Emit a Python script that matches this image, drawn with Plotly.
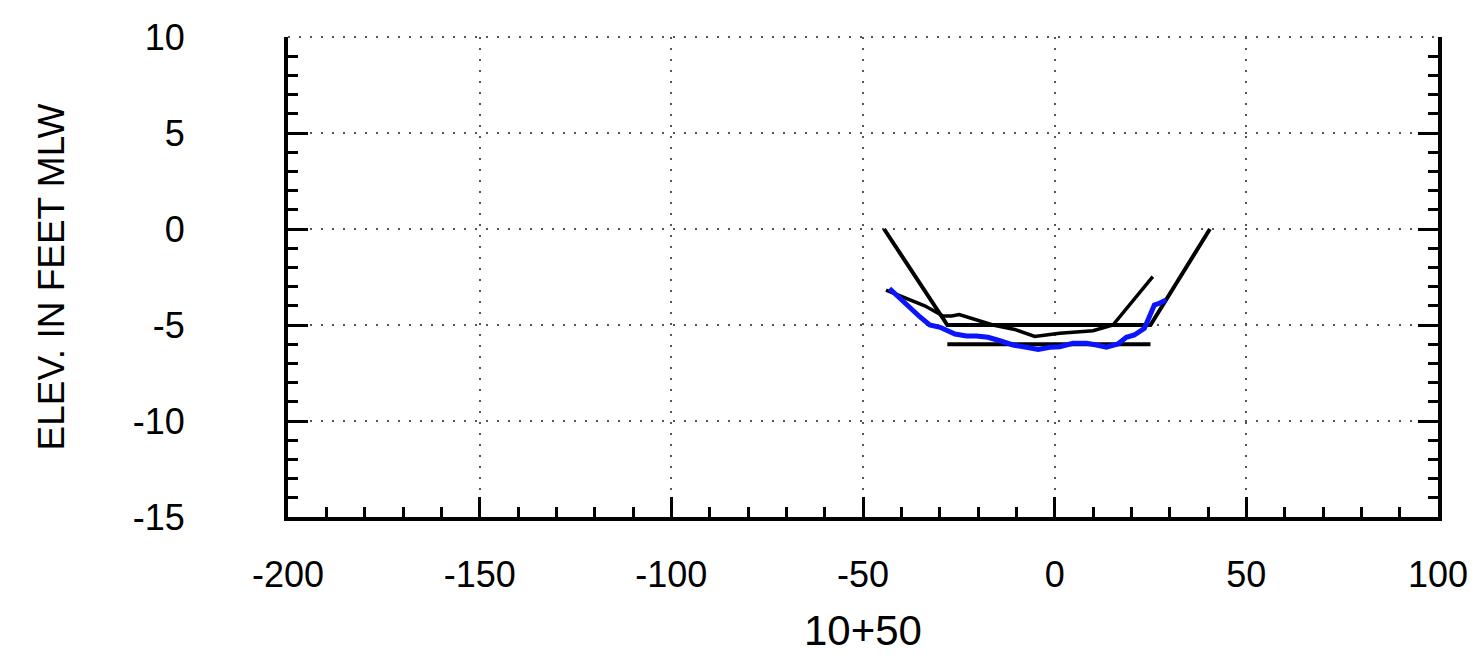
import plotly.graph_objects as go

# Design template (channel template)
design_x = [-44.5, -28.0, 25.0, 40.5]
design_y = [0.0, -5.0, -5.0, 0.0]

# Allowable overdepth line
overdepth_x = [-28.0, 25.0]
overdepth_y = [-6.0, -6.0]

# Prior survey (black)
prior_x = [-44.0, -33.9, -29.1, -26.9, -24.9, -21.3, -16.1, -10.4, -5.2, 1.3, 10.0, 15.2, 25.6]
prior_y = [-3.18, -4.0, -4.53, -4.53, -4.46, -4.7, -5.0, -5.23, -5.6, -5.43, -5.3, -5.0, -2.48]

# Current survey (blue)
survey_x = [-43.1, -40.4, -37.8, -35.2, -32.6, -29.9, -26.0, -23.0, -20.4, -17.4, -14.3, -10.9,
            -7.4, -4.3, -1.3, 1.3, 4.8, 8.3, 10.9, 13.5, 16.5, 18.7, 20.8, 23.4, 24.7, 26.0,
            27.3, 29.1]
survey_y = [-3.1, -3.6, -4.13, -4.57, -5.0, -5.12, -5.47, -5.57, -5.57, -5.64, -5.82, -6.04,
            -6.16, -6.27, -6.16, -6.13, -5.95, -5.95, -6.04, -6.16, -5.99, -5.64, -5.52, -5.17,
            -4.57, -3.96, -3.87, -3.7]

x_tickvals = [-200, -150, -100, -50, 0, 50, 100]
x_ticktext = ["-200", "-150", "-100", "-50", "0", "50", "100"]
y_tickvals = [-15, -10, -5, 0, 5, 10]
y_ticktext = ["-15", "-10", "-5", "0", "5", "10"]

x_title = "10+50"
y_title = "ELEV. IN FEET MLW"

FONT = "Arial, Liberation Sans, sans-serif"
GRID = dict(showgrid=True, gridcolor="#555555", gridwidth=2, griddash="2px,9px")

fig = go.Figure()
fig.add_trace(go.Scatter(x=design_x, y=design_y, mode="lines",
                         line=dict(color="black", width=4), showlegend=False))
fig.add_trace(go.Scatter(x=overdepth_x, y=overdepth_y, mode="lines",
                         line=dict(color="black", width=4), showlegend=False))
fig.add_trace(go.Scatter(x=prior_x, y=prior_y, mode="lines",
                         line=dict(color="black", width=3.5), showlegend=False))
fig.add_trace(go.Scatter(x=survey_x, y=survey_y, mode="lines",
                         line=dict(color="#0a14ff", width=5), showlegend=False))

fig.update_layout(
    width=1473, height=664,
    margin=dict(l=288, r=35, t=37, b=147, autoexpand=False),
    paper_bgcolor="white", plot_bgcolor="white",
    font=dict(family=FONT, color="black", size=36),
    shapes=[dict(type="line", xref="paper", yref="paper", x0=0, x1=1, y0=1, y1=1,
                 line=dict(color="#555555", width=2, dash="2px,9px"), layer="below")],
)

fig.update_xaxes(
    range=[-200, 100], tickmode="array", tickvals=x_tickvals, ticktext=x_ticktext,
    showline=True, linecolor="black", linewidth=4, mirror=False,
    ticks="inside", ticklen=20, tickwidth=3, tickcolor="black",
    minor=dict(dtick=10, tick0=0, ticks="inside", ticklen=10, tickwidth=3, tickcolor="black", showgrid=False),
    zeroline=False, ticklabelstandoff=23,
    title=dict(text=x_title, font=dict(size=42), standoff=22),
    **GRID,
)
fig.update_yaxes(
    range=[-15, 10], tickmode="array", tickvals=y_tickvals, ticktext=y_ticktext,
    showline=True, linecolor="black", linewidth=4, mirror="ticks",
    ticks="inside", ticklen=20, tickwidth=3, tickcolor="black",
    minor=dict(dtick=1, tick0=0, ticks="inside", ticklen=10, tickwidth=3, tickcolor="black", showgrid=False),
    zeroline=False, ticklabelstandoff=92,
    title=dict(text=y_title, font=dict(size=37), standoff=58),
    **GRID,
)

fig.write_html(
    "out.html",
    config={"displayModeBar": False},
    post_script="document.body.style.margin='0';document.body.style.overflow='hidden';",
)
